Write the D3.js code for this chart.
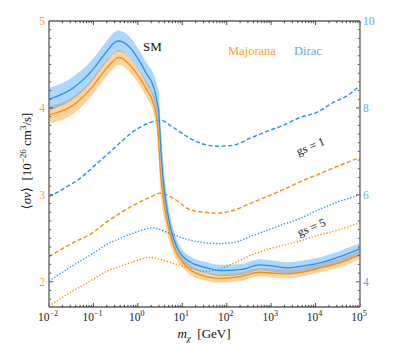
<!DOCTYPE html>
<html>
<head>
<meta charset="utf-8">
<script src="https://cdn.jsdelivr.net/npm/d3@7"></script>
<style>
body { margin: 0; background: #fff; }
svg { display: block; font-family: 'Liberation Serif', 'DejaVu Serif', serif; }
</style>
</head>
<body>
<svg id="chart" width="394" height="361"></svg>
<script>
// SM thermal relic (solid + band), Majorana on left axis, Dirac on right axis
var massSM = [0.01, 0.035, 0.083, 0.2, 0.28, 0.36, 0.45, 0.56, 1.12, 1.58, 2.04, 2.45, 2.75, 2.95, 3.16, 3.55,
    4.07, 5.25, 7.41, 10, 14.8, 35.5, 70.8, 200, 562, 1120, 2240, 5010, 10700, 35500, 1e5];
var majoranaSM = [3.92, 4.03, 4.21, 4.46, 4.54, 4.58, 4.57, 4.53, 4.34, 4.21, 4.11, 3.98, 3.82, 3.60, 3.33, 3.05,
    2.83, 2.56, 2.33, 2.23, 2.14, 2.06, 2.04, 2.06, 2.11, 2.10, 2.09, 2.11, 2.15, 2.22, 2.31];
var majoranaBand = [0.10, 0.10, 0.095, 0.09, 0.085, 0.085, 0.085, 0.085, 0.085, 0.09, 0.10, 0.13, 0.17, 0.20, 0.21, 0.19,
    0.16, 0.12, 0.08, 0.06, 0.055, 0.05, 0.05, 0.05, 0.05, 0.05, 0.05, 0.05, 0.05, 0.05, 0.05];
var diracSM = [8.20, 8.46, 8.80, 9.30, 9.48, 9.54, 9.52, 9.46, 9.06, 8.78, 8.60, 8.36, 8.10, 7.92, 7.40, 6.60,
    6.00, 5.32, 4.82, 4.60, 4.46, 4.32, 4.26, 4.28, 4.39, 4.36, 4.32, 4.36, 4.42, 4.58, 4.76];
var diracBand = [0.26, 0.26, 0.25, 0.24, 0.24, 0.24, 0.24, 0.24, 0.24, 0.25, 0.27, 0.32, 0.40, 0.46, 0.48, 0.42,
    0.33, 0.24, 0.17, 0.14, 0.13, 0.13, 0.13, 0.13, 0.13, 0.13, 0.13, 0.13, 0.13, 0.13, 0.13];

// gs = 1 (dashed)
var massG1Dirac = [0.01, 0.032, 0.05, 0.1, 0.2, 0.4, 0.79, 1.58, 3.16, 6.3, 14.8, 31.6, 58.9, 138, 331, 794,
    1860, 4470, 10700, 24500, 58900, 1e5];
var diracG1 = [5.96, 6.25, 6.38, 6.65, 6.92, 7.20, 7.46, 7.63, 7.72, 7.55, 7.30, 7.16, 7.12, 7.14, 7.30, 7.46,
    7.60, 7.78, 7.90, 8.12, 8.32, 8.52];
var massG1Majorana = [0.01, 0.032, 0.1, 0.2, 0.4, 0.79, 1.86, 3.16, 6.3, 14.8, 31.6, 58.9, 138, 331, 794,
    1860, 4470, 10700, 35500, 1e5];
var majoranaG1 = [2.29, 2.44, 2.57, 2.69, 2.79, 2.88, 2.97, 3.02, 2.96, 2.83, 2.80, 2.79, 2.82, 2.90, 2.98,
    3.06, 3.15, 3.23, 3.34, 3.43];

// gs = 5 (dotted)
var massG5Dirac = [0.01, 0.033, 0.1, 0.2, 0.4, 0.79, 2.24, 5.0, 14.8, 58.9, 138, 331, 794, 1860, 4470, 10700, 25100, 1e5];
var diracG5 = [4.02, 4.36, 4.66, 4.86, 5.00, 5.12, 5.24, 5.12, 4.96, 4.88, 4.90, 5.04, 5.18, 5.32, 5.46, 5.64, 5.80, 6.00];
var massG5Majorana = [0.01, 0.033, 0.1, 0.2, 0.4, 0.79, 1.86, 3.16, 6.3, 14.8, 35.5, 63.1, 138, 331, 794,
    1860, 4470, 10700, 25100, 1e5];
var majoranaG5 = [1.72, 1.89, 2.03, 2.12, 2.18, 2.23, 2.28, 2.26, 2.21, 2.16, 2.12, 2.14, 2.21, 2.30, 2.37,
    2.42, 2.47, 2.53, 2.58, 2.68];

var xTickExponents = [-2, -1, 0, 1, 2, 3, 4, 5];
var leftTicks = [2, 3, 4, 5];
var rightTicks = [4, 6, 8, 10];

var orange = '#ff8c00';
var blue = '#1e90ff';
var orangeText = '#ff9d30';
var blueText = '#5aabf2';

var plotLeft = 49, plotRight = 360, plotTop = 21, plotBottom = 307;

var svg = d3.select('#chart');

var x = d3.scaleLog().domain([1e-2, 1e5]).range([plotLeft, plotRight]);
var yL = d3.scaleLinear().domain([1.71, 5]).range([plotBottom, plotTop]);
var yR = d3.scaleLinear().domain([3.42, 10]).range([plotBottom, plotTop]);

svg.append('defs')
    .append('clipPath')
    .attr('id', 'plot-clip')
    .append('rect')
    .attr('x', plotLeft)
    .attr('y', plotTop)
    .attr('width', plotRight - plotLeft)
    .attr('height', plotBottom - plotTop);

var plot = svg.append('g').attr('clip-path', 'url(#plot-clip)');

function band(masses, vals, half, y) {
    var pts = masses.map(function(m, i) { return [m, vals[i], half[i]]; });
    return d3.area()
        .x(function(d) { return x(d[0]); })
        .y0(function(d) { return y(d[1] - d[2]); })
        .y1(function(d) { return y(d[1] + d[2]); })
        .curve(d3.curveMonotoneX)(pts);
}

function curve(masses, vals, y) {
    var pts = masses.map(function(m, i) { return [m, vals[i]]; });
    return d3.line()
        .x(function(d) { return x(d[0]); })
        .y(function(d) { return y(d[1]); })
        .curve(d3.curveMonotoneX)(pts);
}

//gs lines
var styled = [
    [massG1Dirac, diracG1, yR, blue, '4.2,2.4'],
    [massG1Majorana, majoranaG1, yL, orange, '4.2,2.4'],
    [massG5Dirac, diracG5, yR, blue, '1.3,1.8'],
    [massG5Majorana, majoranaG5, yL, orange, '1.3,1.8']
];
styled.forEach(function(s) {
    plot.append('path')
        .attr('d', curve(s[0], s[1], s[2]))
        .style('fill', 'none')
        .style('stroke', s[3])
        .style('stroke-width', '1.4px')
        .style('stroke-dasharray', s[4]);
});

//SM bands
plot.append('path')
    .attr('d', band(massSM, majoranaSM, majoranaBand, yL))
    .style('fill', orange)
    .style('fill-opacity', 0.38);
plot.append('path')
    .attr('d', band(massSM, diracSM, diracBand, yR))
    .style('fill', blue)
    .style('fill-opacity', 0.36);

//SM lines
plot.append('path')
    .attr('d', curve(massSM, majoranaSM, yL))
    .style('fill', 'none')
    .style('stroke', orange)
    .style('stroke-width', '1.3px');
plot.append('path')
    .attr('d', curve(massSM, diracSM, yR))
    .style('fill', 'none')
    .style('stroke', blue)
    .style('stroke-width', '1.3px');

//TICKS
var axes = svg.append('g').style('stroke', '#222').style('stroke-width', '0.8px');
var minorX = [];
xTickExponents.forEach(function(e) {
    if (e < 5) {
        for (var k = 2; k <= 9; k++) minorX.push(k * Math.pow(10, e));
    }
});
minorX.forEach(function(v) {
    axes.append('line').attr('x1', x(v)).attr('x2', x(v)).attr('y1', plotBottom).attr('y2', plotBottom - 2.2);
    axes.append('line').attr('x1', x(v)).attr('x2', x(v)).attr('y1', plotTop).attr('y2', plotTop + 2.2);
});
xTickExponents.forEach(function(e) {
    var v = Math.pow(10, e);
    axes.append('line').attr('x1', x(v)).attr('x2', x(v)).attr('y1', plotBottom).attr('y2', plotBottom - 4);
    axes.append('line').attr('x1', x(v)).attr('x2', x(v)).attr('y1', plotTop).attr('y2', plotTop + 4);
});
d3.range(18, 50).forEach(function(k) {
    var v = k / 10;
    var len = (k % 10 === 0) ? 4 : 2.2;
    axes.append('line').attr('x1', plotLeft).attr('x2', plotLeft + len).attr('y1', yL(v)).attr('y2', yL(v));
});
d3.range(18, 50).forEach(function(k) {
    var v = k / 5;
    var len = (k % 10 === 0) ? 4 : 2.2;
    axes.append('line').attr('x1', plotRight).attr('x2', plotRight - len).attr('y1', yR(v)).attr('y2', yR(v));
});

//FRAME
svg.append('line').attr('x1', plotLeft).attr('x2', plotRight).attr('y1', plotTop).attr('y2', plotTop)
    .style('stroke', '#111').style('stroke-width', '1px');
svg.append('line').attr('x1', plotLeft).attr('x2', plotRight).attr('y1', plotBottom).attr('y2', plotBottom)
    .style('stroke', '#111').style('stroke-width', '1.2px');
svg.append('line').attr('x1', plotLeft).attr('x2', plotLeft).attr('y1', plotTop).attr('y2', plotBottom)
    .style('stroke', '#7a7a7a').style('stroke-width', '1.6px');
svg.append('line').attr('x1', plotRight).attr('x2', plotRight).attr('y1', plotTop).attr('y2', plotBottom)
    .style('stroke', '#7a7a7a').style('stroke-width', '1.6px');

//TICK LABELS
xTickExponents.forEach(function(e) {
    var t = svg.append('text')
        .attr('x', x(Math.pow(10, e)) - 1)
        .attr('y', 321)
        .attr('text-anchor', 'middle')
        .style('font-size', '11.5px')
        .style('fill', '#222');
    t.append('tspan').text('10');
    t.append('tspan').attr('dy', -5).style('font-size', '8px').text(e < 0 ? '\u2212' + (-e) : e);
});
leftTicks.forEach(function(v) {
    svg.append('text')
        .attr('x', 45)
        .attr('y', yL(v) + 4)
        .attr('text-anchor', 'end')
        .style('font-size', '11.5px')
        .style('fill', orangeText)
        .text(v);
});
rightTicks.forEach(function(v) {
    svg.append('text')
        .attr('x', 363)
        .attr('y', yR(v) + 4)
        .style('font-size', '11.5px')
        .style('fill', blueText)
        .text(v);
});

//AXIS LABELS
var ylab = svg.append('text')
    .attr('transform', 'translate(31,161) rotate(-90)')
    .attr('text-anchor', 'middle')
    .style('font-size', '13px')
    .style('fill', '#111');
ylab.append('tspan').text('\u27e8');
ylab.append('tspan').style('font-style', 'italic').text('\u03c3v');
ylab.append('tspan').text('\u27e9\u00a0\u00a0[10');
ylab.append('tspan').attr('dy', -5).style('font-size', '9px').text('\u221226');
ylab.append('tspan').attr('dy', 5).text('\u00a0cm');
ylab.append('tspan').attr('dy', -5).style('font-size', '9px').text('3');
ylab.append('tspan').attr('dy', 5).text('/s]');

var xlab = svg.append('text')
    .attr('x', 204)
    .attr('y', 338)
    .attr('text-anchor', 'middle')
    .style('font-size', '13px')
    .style('fill', '#111');
xlab.append('tspan').style('font-style', 'italic').text('m');
xlab.append('tspan').attr('dy', 3).style('font-size', '9px').style('font-style', 'italic').text('\u03c7');
xlab.append('tspan').attr('dy', -3).text('\u00a0\u00a0[GeV]');

//ANNOTATIONS
svg.append('text').attr('x', 143).attr('y', 51).style('font-size', '13px').style('fill', '#111').text('SM');
svg.append('text').attr('x', 228).attr('y', 55).style('font-size', '12.5px').style('fill', orangeText).text('Majorana');
svg.append('text').attr('x', 294).attr('y', 55).style('font-size', '12.5px').style('fill', blueText).text('Dirac');
[['gs = 1', 312, 150], ['gs = 5', 313, 231]].forEach(function(a) {
    svg.append('text')
        .attr('transform', 'translate(' + a[1] + ',' + a[2] + ') rotate(-22)')
        .attr('text-anchor', 'middle')
        .style('font-size', '12px')
        .style('fill', '#222')
        .text(a[0]);
});
</script>
</body>
</html>
